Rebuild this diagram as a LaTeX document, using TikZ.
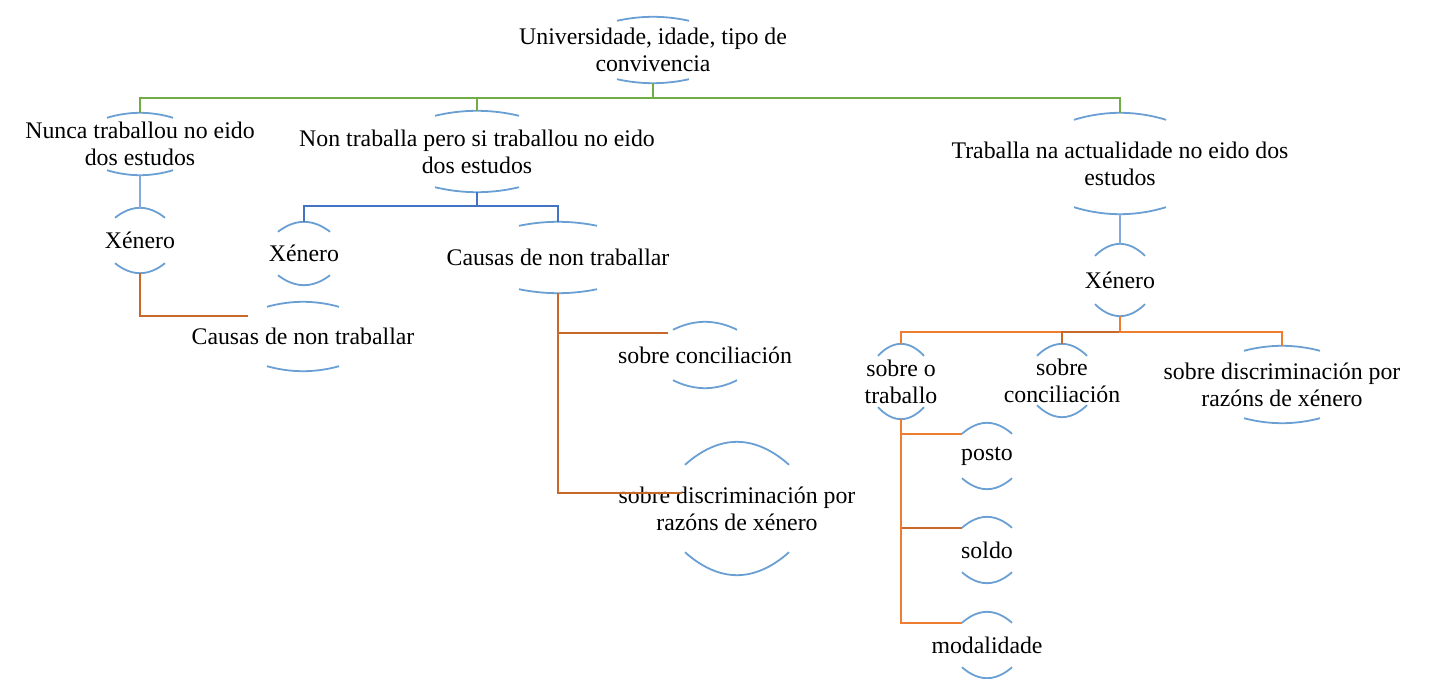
\documentclass[tikz,border=0pt]{standalone}
\usepackage{fontspec}
\setmainfont{Liberation Serif}
\usetikzlibrary{calc}
\definecolor{arcblue}{HTML}{6A9FD4}
\definecolor{lgreen}{HTML}{70AD47}
\definecolor{dblue}{HTML}{4472C4}
\definecolor{lblue}{HTML}{86A8DB}
\definecolor{lorange}{HTML}{ED7D31}
\definecolor{dorange}{HTML}{C8692A}
\tikzset{
  lbl/.style={align=center,inner sep=0pt,font=\fontsize{23.8}{27}\selectfont},
  arcline/.style={draw=arcblue,line width=1.8pt},
  conn/.style={line width=2pt},
}

\begin{document}
\begin{tikzpicture}[x=1pt,y=-1pt]
\useasboundingbox (0,0) rectangle (1431,679);
% nodes
\node[lbl,minimum height=66pt] (root) at (653,50) {Universidade, idade, tipo de\\convivencia};
\node[lbl,minimum height=62pt] (nunca) at (140,144) {Nunca traballou no eido\\dos estudos};
\node[lbl,minimum height=65pt] (xenL) at (140,240.5) {Xénero};
\node[lbl,minimum height=69pt] (causasL) at (303,336.5) {Causas de non traballar};
\node[lbl,minimum height=81pt] (nontr) at (477,151.5) {Non traballa pero si traballou no eido\\dos estudos};
\node[lbl,minimum height=63pt] (xenM) at (304,253.5) {Xénero};
\node[lbl,minimum height=71pt] (causasM) at (558,257.5) {Causas de non traballar};
\node[lbl,minimum height=66pt] (concM) at (705,355) {sobre conciliación};
\node[lbl,minimum height=133pt] (discM) at (737,508.5) {sobre discriminación por\\razóns de xénero};
\node[lbl,minimum height=101pt] (trab) at (1120,163.5) {Traballa na actualidade no eido dos\\estudos};
\node[lbl,minimum height=72pt] (xenR) at (1120,280) {Xénero};
\node[lbl,minimum height=75pt] (otrab) at (901,381.5) {sobre o\\traballo};
\node[lbl,minimum height=73pt] (concR) at (1062,380.5) {sobre\\conciliación};
\node[lbl,minimum height=77pt] (discR) at (1282,384.5) {sobre discriminación por\\razóns de xénero};
\node[lbl,minimum height=66pt] (posto) at (987,456) {posto};
\node[lbl,minimum height=66pt] (soldo) at (987,550) {soldo};
\node[lbl,minimum height=66pt] (modal) at (987,645) {modalidade};

% arcs above and below each label
\foreach \n/\ww/\dd in {root/36/4,nunca/33/5,xenL/25/10,causasL/36/5,nontr/42/5,
  xenM/26/10,causasM/39/4,concM/32/8,discM/52/23,trab/46/7,xenR/25/12,
  otrab/23/12,concR/25/12,discR/38/5,posto/25/11,soldo/25/11,modal/25/11}{
  \draw[arcline] ($(\n.north)+(-\ww,\dd)$) parabola bend (\n.north) ($(\n.north)+(\ww,\dd)$);
  \draw[arcline] ($(\n.south)+(-\ww,-\dd)$) parabola bend (\n.south) ($(\n.south)+(\ww,-\dd)$);
}

% connectors
\draw[conn,lgreen] (root.south) -- ++(0,15) -| (nunca.north);
\draw[conn,lgreen] (root.south) -- ++(0,15) -| (nontr.north);
\draw[conn,lgreen] (root.south) -- ++(0,15) -| (trab.north);

\draw[conn,lblue] (nunca.south) -- (xenL.north);
\draw[conn,dorange] (xenL.south) |- ($(causasL.north)+(-55,14)$);

\draw[conn,dblue] (nontr.south) -- ++(0,14) -| (xenM.north);
\draw[conn,dblue] (nontr.south) -- ++(0,14) -| (causasM.north);
\draw[conn,dorange] (causasM.south) |- ($(concM.north)+(-37,11)$);
\draw[conn,dorange] (causasM.south) |- ($(discM.north)+(-55,51)$);

\draw[conn,lblue] (trab.south) -- (xenR.north);
\draw[conn,lorange] (xenR.south) -- ++(0,16) -| (otrab.north);
\draw[conn,dorange] (xenR.south) -- ++(0,16) -| (concR.north);
\draw[conn,lorange] (xenR.south) -- ++(0,16) -| (discR.north);
\draw[conn,lorange] (otrab.south) |- ($(posto.north)+(-25,11)$);
\draw[conn,dorange] (otrab.south) |- ($(soldo.north)+(-25,11)$);
\draw[conn,lorange] (otrab.south) |- ($(modal.north)+(-25,11)$);
\end{tikzpicture}
\end{document}
